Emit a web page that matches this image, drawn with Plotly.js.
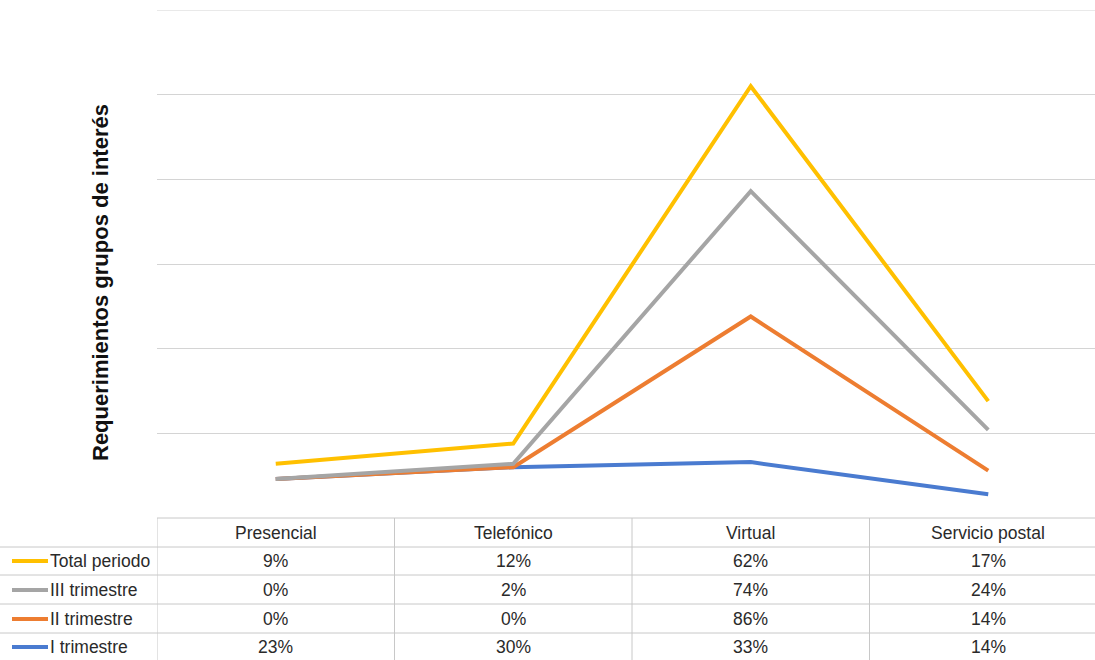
<!DOCTYPE html>
<html>
<head>
<meta charset="utf-8">
<script src="https://cdn.plot.ly/plotly-3.0.1.min.js"></script>
<style>html,body{margin:0;padding:0;background:#fff;}#chart{width:1095px;height:660px;}</style>
</head>
<body>
<div id="chart"></div>
<script>
const categories = ["Presencial", "Telefónico", "Virtual", "Servicio postal"];
const seriesNames = ["I trimestre", "II trimestre", "III trimestre", "Total periodo"];
const iTrimestre = [23, 30, 33, 14];
const iiTrimestre = [0, 0, 86, 14];
const iiiTrimestre = [0, 2, 74, 24];
const totalPeriodo = [9, 12, 62, 17];
const seriesColors = ["#4A7BD0", "#ED7D31", "#A5A5A5", "#FFC000"];
const yTitle = "Requerimientos grupos de interés";

const seriesValues = [iTrimestre, iiTrimestre, iiiTrimestre, totalPeriodo];
const W = 1095, H = 660, L = 157, T = 10, B = 142;
const plotW = W - L, plotH = H - T - B;
const xp = px => (px - L) / plotW;
const yp = py => (H - B - py) / plotH;

const traces = seriesValues.map((vals, i) => ({
  type: "scatter", mode: "lines", x: categories.map((c, k) => k), y: vals,
  name: seriesNames[i], stackgroup: "s", fill: "none",
  line: {color: seriesColors[i], width: 4}, hoverinfo: "skip"
}));

const shapes = [];
const annotations = [];
const lineColor = "#c8c8c8";
const txt = "#2a2a2a";
const fs = 17.5;
// top gridline
shapes.push({type: "line", xref: "paper", yref: "y", x0: 0, x1: 1, y0: 300, y1: 300, line: {color: "#d4d4d4", width: 1}, layer: "below"});
// table geometry (pixels)
const headerTop = 518, rowLines = [547, 575, 604, 633, 662];
const rowCenters = [561, 590, 619, 647];
shapes.push({type: "line", xref: "paper", yref: "paper", x0: 0, x1: 1, y0: yp(headerTop), y1: yp(headerTop), line: {color: lineColor, width: 1}});
rowLines.forEach(py => shapes.push({type: "line", xref: "paper", yref: "paper", x0: xp(0), x1: 1, y0: yp(py), y1: yp(py), line: {color: lineColor, width: 1}}));
[-0.5, 0.5, 1.5, 2.5].forEach(xv => shapes.push({type: "line", xref: "x", yref: "paper", x0: xv, x1: xv, y0: yp(headerTop), y1: yp(662), line: {color: lineColor, width: 1}}));
categories.forEach((c, k) => annotations.push({xref: "x", yref: "paper", x: k, y: yp(533), text: c, showarrow: false, xanchor: "center", yanchor: "middle", font: {size: fs, color: txt}}));
const tableOrder = [3, 2, 1, 0];
tableOrder.forEach((si, r) => {
  const cy = yp(rowCenters[r]);
  shapes.push({type: "line", xref: "paper", yref: "paper", x0: xp(12), x1: xp(48), y0: cy, y1: cy, line: {color: seriesColors[si], width: 4}});
  annotations.push({xref: "paper", yref: "paper", x: xp(48), y: cy, text: seriesNames[si], showarrow: false, xanchor: "left", yanchor: "middle", font: {size: fs, color: txt}});
  seriesValues[si].forEach((v, k) => annotations.push({xref: "x", yref: "paper", x: k, y: cy, text: v + "%", showarrow: false, xanchor: "center", yanchor: "middle", font: {size: fs, color: txt}}));
});
annotations.push({xref: "paper", yref: "paper", x: xp(101), y: yp(283), text: "<b>" + yTitle + "</b>", textangle: -90, showarrow: false, xanchor: "center", yanchor: "middle", font: {size: 22, color: "#111"}});

const layout = {
  width: W, height: H, margin: {l: L, r: 0, t: T, b: B, pad: 0},
  paper_bgcolor: "#fff", plot_bgcolor: "#fff", showlegend: false,
  font: {family: "Liberation Sans, Arial, sans-serif", color: txt},
  xaxis: {range: [-0.5, -0.5 + plotW / 237.5], showticklabels: false, showgrid: false, zeroline: false, ticks: "", fixedrange: true},
  yaxis: {range: [0, 300], dtick: 50, showticklabels: false, gridcolor: "#d4d4d4", gridwidth: 1, zeroline: false, ticks: "", fixedrange: true},
  shapes: shapes, annotations: annotations
};
Plotly.newPlot("chart", traces, layout, {displayModeBar: false, staticPlot: true});
</script>
</body>
</html>
